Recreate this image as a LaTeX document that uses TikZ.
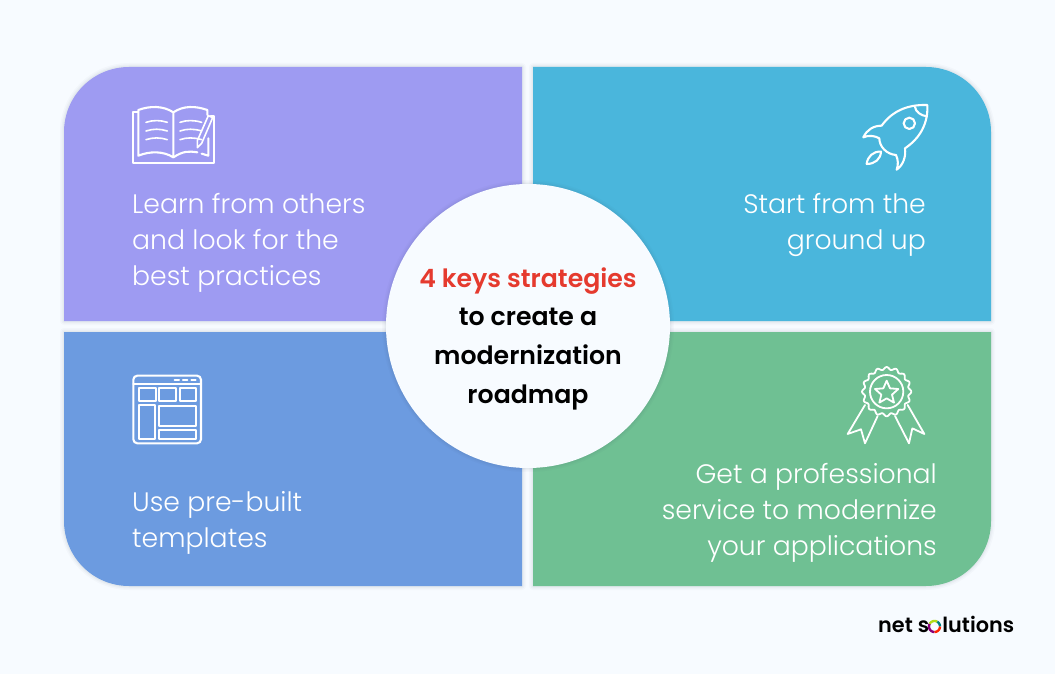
\documentclass[tikz,border=0pt]{standalone}
\usepackage{fontspec}
\setmainfont[UprightFont=* Light,BoldFont=* SemiBold]{Poppins}
\newfontfamily\logofont[UprightFont=* SemiBold]{Poppins}
\definecolor{bgc}{HTML}{F7FBFF}
\definecolor{cA}{HTML}{9E9BF2}
\definecolor{cB}{HTML}{4AB6DC}
\definecolor{cC}{HTML}{6C9BE0}
\definecolor{cD}{HTML}{6FC093}
\definecolor{redt}{HTML}{E53A2E}
\definecolor{shade}{HTML}{30405A}
\tikzset{
  panel/.style={
    preaction={draw=shade,draw opacity=.022,line width=8pt,line join=round},
    preaction={draw=shade,draw opacity=.03,line width=5pt,line join=round},
    preaction={draw=shade,draw opacity=.04,line width=2.5pt,line join=round}},
  label/.style={text=white,inner sep=0pt,font=\fontsize{26.7}{36}\selectfont},
  icon/.style={draw=white,line width=2.1pt,line join=round,line cap=round,fill=none},
  iconthin/.style={draw=white,line width=1.6pt,line join=round,line cap=round,fill=none},
  centerline/.style={inner sep=0pt,anchor=base,font=\fontsize{25.2}{30}\selectfont\bfseries},
}
\begin{document}
\begin{tikzpicture}[x=1pt,y=-1pt]
\fill[bgc] (0,0) rectangle (1055,674);
\useasboundingbox (0,0) rectangle (1055,674);
% panels
\path[panel] (522,67) -- (522,321) -- (64,321) -- (64,132) .. controls (64,96.1) and (93.1,67) .. (129,67) -- cycle;
\path[panel] (533,67) -- (926,67) .. controls (961.9,67) and (991,96.1) .. (991,132) -- (991,321) -- (533,321) -- cycle;
\path[panel] (64,332) -- (522,332) -- (522,586) -- (129,586) .. controls (93.1,586) and (64,556.9) .. (64,521) -- cycle;
\path[panel] (533,332) -- (991,332) -- (991,521) .. controls (991,556.9) and (961.9,586) .. (926,586) -- (533,586) -- cycle;
\fill[cA] (522,67) -- (522,321) -- (64,321) -- (64,132) .. controls (64,96.1) and (93.1,67) .. (129,67) -- cycle;
\fill[cB] (533,67) -- (926,67) .. controls (961.9,67) and (991,96.1) .. (991,132) -- (991,321) -- (533,321) -- cycle;
\fill[cC] (64,332) -- (522,332) -- (522,586) -- (129,586) .. controls (93.1,586) and (64,556.9) .. (64,521) -- cycle;
\fill[cD] (533,332) -- (991,332) -- (991,521) .. controls (991,556.9) and (961.9,586) .. (926,586) -- (533,586) -- cycle;
% centre
\node[circle,minimum size=284pt,fill=bgc,inner sep=0pt,panel] (hub) at (528,326) {};
\node[centerline,text=redt] (h1) at (528,287) {4 keys strategies};
\node[centerline,text=black] (h2) at (528,325) {to create a};
\node[centerline,text=black] (h3) at (528,364) {modernization};
\node[centerline,text=black] (h4) at (528,403) {roadmap};
% labels
\node[label,anchor=north west,align=left] (la) at (132,193.5) {Learn from others\\and look for the\\best practices};
\node[label,anchor=north east,align=right] (lb) at (926,193.5) {Start from the\\ground up};
\node[label,anchor=north west,align=left] (lc) at (132,491.5) {Use pre-built\\templates};
\node[label,anchor=north east,align=right] (ld) at (937,463.5) {Get a professional\\service to modernize\\your applications};
% book
\begin{scope}[shift={(120,95)},x=0.3333pt,y=-0.3333pt]
\draw[icon] (55,52) -- (38,52) -- (38,205) -- (283,205) -- (283,62) -- (272,62);
\draw[icon] (160,52) .. controls (130,32) and (90,32) .. (55,45) -- (55,182) .. controls (90,168) and (130,168) .. (160,187) -- cycle;
\draw[icon] (160,52) .. controls (190,32) and (225,32) .. (262,45) -- (262,60);
\draw[icon] (160,187) .. controls (190,168) and (205,168) .. (232,172);
\draw[icon] (265,130) -- (265,182) -- (245,176);
\foreach \yy in {82,108,134}{
  \draw[iconthin] (78,\yy) .. controls (100,\yy-7) and (120,\yy-7) .. (142,\yy);
  \draw[iconthin] (180,\yy) .. controls (200,\yy-7) and (222,\yy-7) .. (245,\yy);
}
\draw[iconthin] (265,62) -- (278,68) -- (245,145) -- (232,158) -- (232,137) -- cycle;
\end{scope}
% rocket
\begin{scope}[shift={(850,95)},x=0.3333pt,y=-0.3333pt]
\draw[icon] (232,30) .. controls (170,28) and (125,50) .. (95,92) .. controls (70,92) and (50,105) .. (40,127) .. controls (55,120) and (75,122) .. (88,130) .. controls (88,155) and (110,178) .. (138,180) .. controls (145,195) and (145,210) .. (140,224) .. controls (160,210) and (168,185) .. (165,160) .. controls (210,130) and (235,85) .. (232,30) -- cycle;
\draw[icon] (195,36) .. controls (197,50) and (212,62) .. (231,64);
\draw[icon] (178,85) circle[radius=17];
\draw[icon] (93,170) .. controls (70,168) and (52,185) .. (50,207) .. controls (75,207) and (92,192) .. (93,170) -- cycle;
\end{scope}
% template
\begin{scope}[shift={(120,365)},x=0.3333pt,y=-0.3333pt]
\draw[icon,rounded corners=4pt] (40,32) rectangle (243,235);
\draw[icon] (40,56) -- (243,56);
\draw[icon] (164,46) -- (177,46) (189,46) -- (202,46) (214,46) -- (227,46);
\draw[icon] (58,70) rectangle (108,108) (118,70) rectangle (168,108) (180,70) rectangle (228,108)
  (58,120) rectangle (105,222) (118,122) rectangle (228,182) (118,195) rectangle (228,222);
\end{scope}
% badge
\begin{scope}[shift={(835,360)},x=0.3333pt,y=-0.3333pt]
\draw[icon,line width=1.8pt] plot[domain=0:360,samples=145,smooth] ({155+(70+4*cos(16*\x))*cos(\x)},{95+(70+4*cos(16*\x))*sin(\x)}) -- cycle;
\draw[icon,line width=1.8pt] (155,95) circle[radius=50];
\draw[icon,line width=1.8pt] (155,62) -- (165,85) -- (190,87) -- (171,104) -- (177,128) -- (155,115) -- (133,128) -- (139,104) -- (120,87) -- (145,85) -- cycle;
\draw[icon,line width=1.8pt] (90,135) -- (38,222) -- (78,208) -- (90,250) -- (128,168);
\draw[icon,line width=1.8pt] (218,135) -- (268,222) -- (232,205) -- (222,250) -- (180,168);
\end{scope}
% logo
\node[inner sep=0pt,anchor=base west,text=black] (logo) at (878,632.5) {\logofont\fontsize{20.8}{22}\selectfont net s\textcolor{bgc}{o}lutions};
\draw[line width=2.4pt,purple!70!blue] plot[domain=90:210,samples=13] ({934.5+5.5*cos(\x)},{626.5+5.5*sin(\x)});
\draw[line width=2.4pt,yellow!70!green] plot[domain=210:300,samples=13] ({934.5+5.5*cos(\x)},{626.5+5.5*sin(\x)});
\draw[line width=2.4pt,teal] plot[domain=300:360,samples=13] ({934.5+5.5*cos(\x)},{626.5+5.5*sin(\x)});
\draw[line width=2.4pt,red!70!orange] plot[domain=0:90,samples=13] ({934.5+5.5*cos(\x)},{626.5+5.5*sin(\x)});
\end{tikzpicture}
\end{document}
